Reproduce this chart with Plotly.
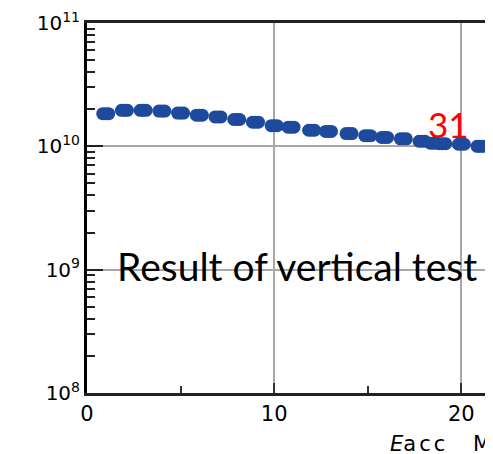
import plotly.graph_objects as go

# Data
e_acc = [1, 2, 3, 4, 5, 6, 7, 8, 9, 10, 10.9, 12, 12.9, 14, 15, 15.9, 16.9, 17.9, 18.5, 19, 20, 21, 21.8]
q0 = [1.84e10, 1.96e10, 1.96e10, 1.93e10, 1.86e10, 1.79e10, 1.73e10, 1.65e10, 1.57e10, 1.47e10,
      1.43e10, 1.35e10, 1.32e10, 1.27e10, 1.22e10, 1.18e10, 1.15e10, 1.10e10, 1.06e10, 1.05e10,
      1.04e10, 1.00e10, 0.97e10]

x_ticks = [0, 10, 20]
x_minor = [5, 15]
y_ticks = [1e8, 1e9, 1e10, 1e11]
y_ticktext = ["10<sup>8</sup>", "10<sup>9</sup>", "10<sup>10</sup>", "10<sup>11</sup>"]
y_minor = [m * 10 ** d for d in (8, 9, 10) for m in range(2, 10)]

OFF = 8  # page body margin of the html page
W, H = 493 - OFF, 454 - OFF
ML, MR, MT, MB = 87 - OFF, 0, 23 - OFF, 61
plot_w = W - ML - MR
plot_h = H - MT - MB
PLOT_LEFT = OFF + ML
PLOT_BOTTOM = OFF + MT + plot_h
x_max = 21.69
px_per_unit = plot_w / x_max
shift = 3.0 / px_per_unit  # stretch markers into ovals


def px(xp):
    return (xp - PLOT_LEFT) / plot_w


def py(yp):
    return (PLOT_BOTTOM - yp) / plot_h


BLUE = "#1d4a9c"
fig = go.Figure()
for ax in ("x", "x2", "x3"):
    fig.add_trace(go.Scatter(x=e_acc, y=q0, mode="markers", xaxis=ax, yaxis="y",
                             marker=dict(size=13, color=BLUE, line=dict(width=0)),
                             showlegend=False, hoverinfo="skip"))

TICK_FAMILY = "DejaVu Sans, Liberation Sans, sans-serif"
fig.update_layout(
    width=W, height=H,
    margin=dict(l=ML, r=MR, t=MT, b=MB, pad=0),
    paper_bgcolor="white", plot_bgcolor="white",
    xaxis=dict(range=[0, x_max], tickmode="array", tickvals=x_ticks, ticks="inside", ticklen=10,
               tickwidth=1.5, tickcolor="#333", showline=True, linecolor="#222", linewidth=2.5,
               mirror=True, showgrid=True, gridcolor="#a8a8a8", gridwidth=1.5, zeroline=False,
               tickfont=dict(family=TICK_FAMILY, size=21, color="black"),
               minor=dict(tickmode="array", tickvals=x_minor, ticks="inside", ticklen=7,
                          tickcolor="#333", tickwidth=1.5, showgrid=False)),
    xaxis2=dict(range=[-shift, x_max - shift], overlaying="x", visible=False),
    xaxis3=dict(range=[shift, x_max + shift], overlaying="x", visible=False),
    yaxis=dict(type="log", range=[8, 11], tickmode="array", tickvals=y_ticks, ticktext=y_ticktext,
               ticks="inside", ticklen=16, tickwidth=1.5, tickcolor="#222", showline=True,
               linecolor="black", linewidth=3, mirror=False, showgrid=True, gridcolor="#a8a8a8",
               gridwidth=1.5, zeroline=False,
               tickfont=dict(family=TICK_FAMILY, size=20, color="black"),
               minor=dict(tickmode="array", tickvals=y_minor, ticks="inside", ticklen=8,
                          tickcolor="#222", tickwidth=1.5, showgrid=False)),
    annotations=[
        dict(text="Result of vertical test", xref="paper", yref="paper", x=px(115), y=py(266),
             xanchor="left", yanchor="middle", showarrow=False,
             font=dict(family="Lato, Open Sans, sans-serif", size=39, color="black")),
        dict(text="31", xref="paper", yref="paper", x=px(426), y=py(124),
             xanchor="left", yanchor="middle", showarrow=False,
             font=dict(family="Lato, Open Sans, sans-serif", size=35, color="#ff0000")),
        dict(text="<i>E</i><span style='font-size:21px;letter-spacing:3px'>acc</span>",
             xref="paper", yref="paper",
             x=px(388), y=py(444), xanchor="left", yanchor="middle", showarrow=False,
             font=dict(family=TICK_FAMILY, size=21, color="black")),
        dict(text="MV/m", xref="paper", yref="paper",
             x=px(471), y=py(444), xanchor="left", yanchor="middle", showarrow=False,
             font=dict(family=TICK_FAMILY, size=21, color="black")),
    ],
)

fig.write_html("out.html")
